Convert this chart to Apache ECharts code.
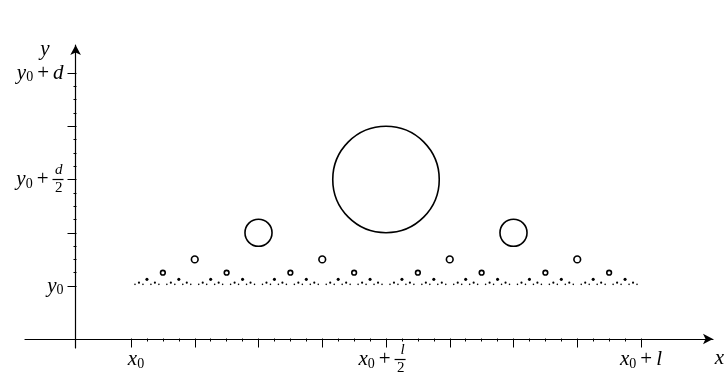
<!DOCTYPE html>
<html><head><meta charset="utf-8">
<script src="https://cdn.jsdelivr.net/npm/echarts@6/dist/echarts.min.js"></script>
<style>html,body{margin:0;padding:0;background:#fff}#c{width:727px;height:376px}</style>
</head><body><div id="c"></div>
<script>
// Circle centres: x in units of l/256 measured from x0, one array per level
const level1X = [128];
const level2X = [64, 192];
const level3X = [32, 96, 160, 224];
const level4X = [16, 48, 80, 112, 144, 176, 208, 240];
const level5X = [8, 24, 40, 56, 72, 88, 104, 120, 136, 152, 168, 184, 200, 216, 232, 248];
const level6X = [4,12,20,28,36,44,52,60,68,76,84,92,100,108,116,124,132,140,148,156,164,172,180,188,196,204,212,220,228,236,244,252];
const level7X = [2,6,10,14,18,22,26,30,34,38,42,46,50,54,58,62,66,70,74,78,82,86,90,94,98,102,106,110,114,118,122,126,130,134,138,142,146,150,154,158,162,166,170,174,178,182,186,190,194,198,202,206,210,214,218,222,226,230,234,238,242,246,250,254];
const xUnit = 256;
// Height of each level above y0 (units of d) and circle radius (units of d)
const levelY = [0.5, 0.25, 0.125, 0.0625, 0.03125, 0.015625, 0.0078125];
const levelR = [0.25, 0.0635, 0.0157, 0.0110, 0.0072, 0.0050, 0.0038];

// Tick labels (rich text)
const xLabelValues = [0, 0.5, 1];
const xLabelTexts = ['{pa| }{i|x}{s|0}', '{f|l}{pb| }\n{i|x}{s|0}{o|+}{bar| }{pb| }\n{g|2}{pb| }', '{i|x}{s|0}{o|+}{i|l}'];
const yLabelValues = [0, 0.5, 1];
const yLabelTexts = ['{i|y}{s|0}', '{f|d}\n{i|y}{s|0}{o|+}{bar| }\n{g|2}', '{i|y}{s|0}{o|+}{i|d}'];

const levelsX = [level1X, level2X, level3X, level4X, level5X, level6X, level7X];
const circles = [];
levelsX.forEach(function (arr, k) {
  arr.forEach(function (n) { circles.push([n / xUnit, levelY[k], levelR[k], k]); });
});

const F = "'Liberation Serif', 'DejaVu Serif', serif";
const rich = {
  i: {fontFamily: F, fontStyle: 'italic', fontSize: 21, lineHeight: 12, color: '#000', align: 'right'},
  s: {fontFamily: F, fontSize: 14, lineHeight: 12, height: 3, verticalAlign: 'bottom', color: '#000', align: 'right'},
  o: {fontFamily: F, fontSize: 21, lineHeight: 12, padding: [0, 4, 0, 4], color: '#000', align: 'right'},
  bar: {width: 11, height: 1.2, lineHeight: 12, fontSize: 4, backgroundColor: '#000', align: 'right'},
  f: {fontFamily: F, fontStyle: 'italic', fontSize: 15, lineHeight: 6, width: 10, color: '#000', align: 'right', padding: [0, 1, 0, 0]},
  g: {fontFamily: F, fontSize: 15, lineHeight: 6, width: 10, color: '#000', align: 'right', padding: [0, 1, 0, 0]},
  pa: {width: 10, fontSize: 4, lineHeight: 12, align: 'right'},
  pb: {width: 8, fontSize: 4, lineHeight: 6, align: 'right'}
};

function fmt(values, texts) {
  return function (v) {
    for (let i = 0; i < values.length; i++) if (Math.abs(v - values[i]) < 1e-9) return texts[i];
    return '';
  };
}
const hidden = {show: false};
const tickStyle = {color: '#000', width: 1};

const chart = echarts.init(document.getElementById('c'), null, {renderer: 'canvas'});
chart.setOption({
  animation: false,
  backgroundColor: '#fff',
  grid: [
    {left: 131, right: 86, top: 73, bottom: 90},      // data
    {left: 25, right: 2, top: 45, bottom: 28},        // axis lines with arrows
    {left: 131, right: 86, top: 73, bottom: 37},      // x ticks
    {left: 76.5, right: 86, top: 73, bottom: 90}      // y ticks
  ],
  xAxis: [
    {gridIndex: 0, type: 'value', min: 0, max: 1, show: false},
    {
      gridIndex: 1, type: 'value', min: -51.5, max: 648.5,
      axisLine: {show: true, onZero: true, symbol: ['none', 'arrow'], symbolSize: [8, 10], lineStyle: {color: '#000', width: 1.2}},
      axisTick: hidden, axisLabel: hidden, splitLine: hidden,
      name: 'x', nameLocation: 'end', nameGap: 11,
      nameTextStyle: {fontFamily: F, fontStyle: 'italic', fontSize: 21, color: '#000', align: 'right', verticalAlign: 'top', padding: [9, 0, 0, 0]}
    },
    {
      gridIndex: 2, type: 'value', min: 0, max: 1, interval: 0.125, position: 'bottom',
      axisLine: hidden,
      axisTick: {show: true, length: 9, lineStyle: tickStyle},
      minorTick: {show: true, splitNumber: 4, length: 3, lineStyle: tickStyle},
      splitLine: hidden, minorSplitLine: hidden,
      axisLabel: {show: true, margin: 21, verticalAlign: 'middle', formatter: fmt(xLabelValues, xLabelTexts), rich: rich}
    },
    {gridIndex: 3, type: 'value', min: 0, max: 1, show: false}
  ],
  yAxis: [
    {gridIndex: 0, type: 'value', min: 0, max: 1, show: false},
    {
      gridIndex: 1, type: 'value', min: -9, max: 294,
      axisLine: {show: true, onZero: true, symbol: ['none', 'arrow'], symbolSize: [8, 10], lineStyle: {color: '#000', width: 1.2}},
      axisTick: hidden, axisLabel: hidden, splitLine: hidden,
      name: 'y', nameLocation: 'end', nameGap: -4,
      nameTextStyle: {fontFamily: F, fontStyle: 'italic', fontSize: 21, color: '#000', align: 'right', verticalAlign: 'middle', padding: [0, 26, 0, 0]}
    },
    {gridIndex: 2, type: 'value', min: 0, max: 1, show: false},
    {
      gridIndex: 3, type: 'value', min: 0, max: 1, interval: 0.25, position: 'left',
      axisLine: hidden,
      axisTick: {show: true, length: 9, lineStyle: tickStyle},
      minorTick: {show: true, splitNumber: 4, length: 3, lineStyle: tickStyle},
      splitLine: hidden, minorSplitLine: hidden,
      axisLabel: {show: true, margin: 13, formatter: fmt(yLabelValues, yLabelTexts), rich: rich}
    }
  ],
  series: [{
    type: 'custom', xAxisIndex: 0, yAxisIndex: 0, clip: false, silent: true,
    data: circles,
    renderItem: function (params, api) {
      const p = api.coord([api.value(0), api.value(1)]);
      const r = api.size([0, api.value(2)])[1];
      const ring = api.value(3) < 4;
      return {
        type: 'circle',
        shape: {cx: p[0], cy: p[1], r: r},
        style: ring ? {fill: 'none', stroke: '#000', lineWidth: 1.6} : {fill: '#000', stroke: null}
      };
    }
  }]
});
</script>
</body></html>
